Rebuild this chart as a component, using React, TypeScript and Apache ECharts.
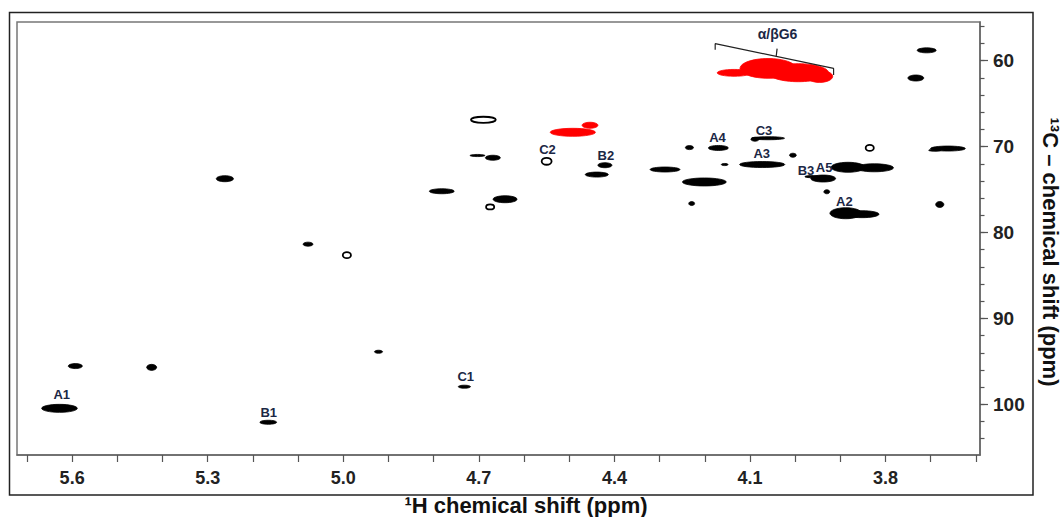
import React, { useEffect, useRef } from "react";
import * as echarts from "echarts";

// Axis ticks and labels (ppm)
const xTickValues = [3.6, 3.7, 3.8, 3.9, 4.0, 4.1, 4.2, 4.3, 4.4, 4.5, 4.6, 4.7, 4.8, 4.9, 5.0, 5.1, 5.2, 5.3, 5.4, 5.5, 5.6, 5.7];
const xLabelValues = [3.8, 4.1, 4.4, 4.7, 5.0, 5.3, 5.6];
const yMinorTickValues = [56, 58, 60, 62, 64, 66, 68, 70, 72, 74, 76, 78, 80, 82, 84, 86, 88, 90, 92, 94, 96, 98, 100, 102, 104];
const yLabelValues = [60, 70, 80, 90, 100];

// Cross peaks: [1H ppm, 13C ppm, 1H extent (ppm), 13C extent (ppm)]
const solidPeaks: number[][] = [
  [5.262, 73.74, 0.038, 0.7],
  [4.703, 71.04, 0.033, 0.25],
  [4.669, 71.3, 0.033, 0.58],
  [4.421, 72.17, 0.031, 0.58],
  [4.439, 73.26, 0.051, 0.58],
  [4.288, 72.67, 0.066, 0.58],
  [4.234, 70.12, 0.018, 0.47],
  [4.17, 70.16, 0.044, 0.58],
  [4.201, 74.12, 0.097, 0.93],
  [4.782, 75.2, 0.055, 0.58],
  [4.642, 76.13, 0.053, 0.81],
  [3.709, 58.8, 0.042, 0.58],
  [3.733, 62.02, 0.035, 0.7],
  [4.06, 69.03, 0.073, 0.35],
  [4.089, 69.15, 0.018, 0.45],
  [4.073, 72.09, 0.1, 0.7],
  [4.156, 72.09, 0.015, 0.25],
  [4.005, 71.01, 0.015, 0.47],
  [3.883, 72.41, 0.075, 1.16],
  [3.825, 72.47, 0.085, 0.93],
  [3.938, 73.72, 0.055, 0.81],
  [3.963, 73.5, 0.031, 0.25],
  [3.93, 75.26, 0.013, 0.47],
  [3.662, 70.23, 0.077, 0.58],
  [3.691, 70.43, 0.027, 0.23],
  [3.888, 77.76, 0.07, 1.28],
  [3.852, 77.87, 0.075, 0.81],
  [3.68, 76.74, 0.018, 0.7],
  [4.229, 76.63, 0.013, 0.47],
  [5.078, 81.36, 0.022, 0.47],
  [4.922, 93.88, 0.018, 0.35],
  [4.732, 97.95, 0.027, 0.35],
  [5.593, 95.55, 0.031, 0.58],
  [5.424, 95.7, 0.022, 0.7],
  [5.628, 100.47, 0.079, 0.93],
  [5.166, 102.09, 0.037, 0.47],
];

const openPeaks: number[][] = [
  [4.69, 66.88, 0.055, 0.7],
  [4.55, 71.71, 0.022, 0.81],
  [4.675, 77.02, 0.018, 0.58],
  [3.835, 70.16, 0.018, 0.7],
  [4.992, 82.64, 0.018, 0.7],
];

const redPeaks: number[][] = [
  [4.492, 68.34, 0.1, 0.93],
  [4.454, 67.52, 0.035, 0.7],
  [4.135, 61.42, 0.075, 0.8],
  [4.06, 60.9, 0.124, 2.3],
  [3.993, 61.4, 0.133, 2.1],
  [3.946, 61.83, 0.058, 1.4],
];

// Peak assignments
const labelNames = ["A1", "B1", "C1", "C2", "B2", "A4", "C3", "A3", "B3", "A5", "A2"];
const labelH = [5.623, 5.165, 4.729, 4.548, 4.419, 4.172, 4.069, 4.074, 3.976, 3.936, 3.891];
const labelC = [98.84, 100.98, 96.79, 70.35, 71.01, 69.0, 68.1, 70.81, 72.84, 72.49, 76.44];

// α/β G6 bracket
const g6Bracket = [[4.177, 58.74], [4.177, 58.02], [3.915, 60.9], [3.915, 61.67]];
const g6Stem = [[4.042, 59.5], [4.04, 58.6]];
const g6Text = "α/βG6";
const g6TextPos = [4.039, 56.86];

const FONT = "'Liberation Sans', Arial, sans-serif";

export default function App() {
  const ref = useRef<HTMLDivElement>(null);
  useEffect(() => {
    const chart = echarts.init(ref.current!, null, { renderer: "svg" });
    const gridRect = { left: 17, top: 22, width: 963, height: 433 };
    const xr = { min: 3.591, max: 5.722 };
    const yr = { min: 55.5, max: 105.9 };

    const ellipse = (fill: string, stroke: string, lw: number) => (params: any, api: any) => {
      const c = api.coord([api.value(0), api.value(1)]);
      const s = api.size([api.value(2), api.value(3)]);
      return {
        type: "ellipse",
        shape: { cx: c[0], cy: c[1], rx: Math.abs(s[0]) / 2, ry: Math.abs(s[1]) / 2 },
        style: { fill, stroke, lineWidth: lw },
      };
    };

    const option: any = {
      animation: false,
      backgroundColor: "#fff",
      grid: [
        { ...gridRect, show: true, borderColor: "#777", borderWidth: 1.5, backgroundColor: "transparent" },
        { ...gridRect },
      ],
      xAxis: [
        {
          gridIndex: 0, type: "value", inverse: true, ...xr,
          axisLine: { show: true, onZero: false, lineStyle: { color: "#666", width: 1.5 } },
          axisTick: { show: true, customValues: xTickValues, length: 7, lineStyle: { color: "#555", width: 1.2 } },
          axisLabel: { show: false },
          splitLine: { show: false },
        },
        {
          gridIndex: 1, type: "value", inverse: true, ...xr,
          axisLine: { show: false },
          axisTick: { show: false },
          axisLabel: {
            show: true, customValues: xLabelValues, formatter: (v: number) => v.toFixed(1),
            margin: 14, fontSize: 18, fontWeight: "bold", color: "#222", fontFamily: FONT,
          },
          splitLine: { show: false },
        },
      ],
      yAxis: [
        {
          gridIndex: 0, type: "value", inverse: true, position: "right", ...yr,
          axisLine: { show: true, onZero: false, lineStyle: { color: "#666", width: 1.5 } },
          axisTick: { show: true, customValues: yMinorTickValues, length: 4.5, lineStyle: { color: "#555", width: 1.2 } },
          axisLabel: { show: false },
          splitLine: { show: false },
        },
        {
          gridIndex: 1, type: "value", inverse: true, position: "right", ...yr,
          axisLine: { show: false },
          axisTick: { show: true, customValues: yLabelValues, length: 8, lineStyle: { color: "#555", width: 1.2 } },
          axisLabel: {
            show: true, customValues: yLabelValues, margin: 13,
            fontSize: 19, fontWeight: "bold", color: "#222", fontFamily: FONT,
          },
          splitLine: { show: false },
        },
      ],
      series: [
        { type: "custom", xAxisIndex: 0, yAxisIndex: 0, renderItem: ellipse("#ff0000", "#ff0000", 0.8), data: redPeaks, encode: { x: 0, y: 1 } },
        { type: "custom", xAxisIndex: 0, yAxisIndex: 0, renderItem: ellipse("#000", "#000", 0.8), data: solidPeaks, encode: { x: 0, y: 1 } },
        { type: "custom", xAxisIndex: 0, yAxisIndex: 0, renderItem: ellipse("#fff", "#000", 1.8), data: openPeaks, encode: { x: 0, y: 1 } },
        {
          type: "line", xAxisIndex: 0, yAxisIndex: 0, data: g6Bracket, showSymbol: false, symbol: "none",
          lineStyle: { color: "#222", width: 1.2 }, silent: true,
        },
        {
          type: "line", xAxisIndex: 0, yAxisIndex: 0, data: g6Stem, showSymbol: false, symbol: "none",
          lineStyle: { color: "#222", width: 1.2 }, silent: true,
        },
        {
          type: "custom", xAxisIndex: 0, yAxisIndex: 0,
          data: labelNames.map((n, i) => ({ name: n, value: [labelH[i], labelC[i]] })),
          encode: { x: 0, y: 1 },
          renderItem: (params: any, api: any) => {
            const c = api.coord([api.value(0), api.value(1)]);
            return {
              type: "text", x: c[0], y: c[1],
              style: {
                text: labelNames[params.dataIndex], fill: "#1b2745", font: `bold 13px ${FONT}`,
                align: "center", verticalAlign: "middle",
              },
            };
          },
        },
        {
          type: "custom", xAxisIndex: 0, yAxisIndex: 0,
          data: [g6TextPos], encode: { x: 0, y: 1 },
          renderItem: (params: any, api: any) => {
            const c = api.coord([api.value(0), api.value(1)]);
            return {
              type: "text", x: c[0], y: c[1],
              style: { text: g6Text, fill: "#1b2745", font: `bold 14px ${FONT}`, align: "center", verticalAlign: "middle" },
            };
          },
        },
      ],
      graphic: [
        {
          type: "rect", shape: { x: 9.5, y: 12.5, width: 1023.5, height: 482.5 },
          style: { fill: "none", stroke: "#222", lineWidth: 1.5 }, silent: true,
        },
        {
          type: "text", x: 526, y: 505,
          style: { text: "¹H chemical shift (ppm)", fill: "#111", font: `bold 22px ${FONT}`, align: "center", verticalAlign: "middle" },
        },
        {
          type: "text", x: 1050, y: 252, rotation: -Math.PI / 2,
          style: { text: "¹³C – chemical shift (ppm)", fill: "#111", font: `bold 22px ${FONT}`, align: "center", verticalAlign: "middle" },
        },
      ],
    };
    chart.setOption(option);
    return () => chart.dispose();
  }, []);
  return <div ref={ref} style={{ position: "fixed", left: 0, top: 0, width: 1062, height: 517 }} />;
}
